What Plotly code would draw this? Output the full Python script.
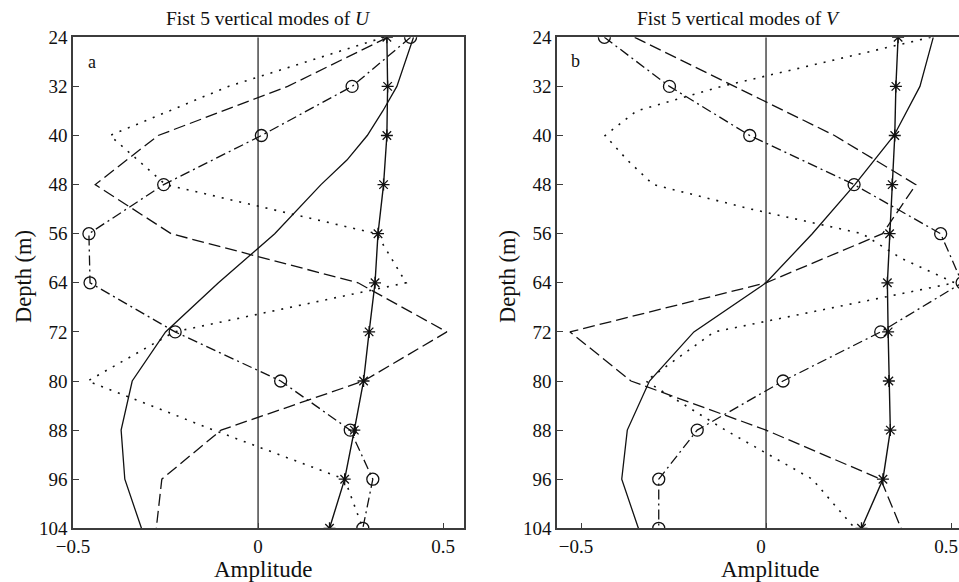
import plotly.graph_objects as go

# ---------------- data ----------------
depth = [24, 32, 40, 48, 56, 64, 72, 80, 88, 96, 104]
depth_ticks = [24, 32, 40, 48, 56, 64, 72, 80, 88, 96, 104]
amp_ticks = [-0.5, 0, 0.5]
amp_ticktext = ["\u22120.5", "0", "0.5"]

# U panel
u_mode1 = [0.348, 0.350, 0.348, 0.339, 0.324, 0.316, 0.300, 0.285, 0.260, 0.234, 0.193]
u_depth2 = [24, 32, 36, 40, 44, 48, 56, 64, 72, 80, 88, 96, 104]
u_mode2 = [0.420, 0.375, 0.337, 0.295, 0.240, 0.170, 0.045, -0.107, -0.250, -0.340, -0.370, -0.360, -0.315]
u_mode3 = [0.350, 0.080, -0.270, -0.440, -0.235, 0.270, 0.510, 0.285, -0.100, -0.260, -0.275]
u_mode4 = [0.340, -0.080, -0.400, -0.250, 0.320, 0.400, -0.226, -0.460, -0.120, 0.234, 0.283]
u_mode5 = [0.412, 0.254, 0.009, -0.255, -0.457, -0.454, -0.224, 0.061, 0.249, 0.310, 0.283]

# V panel
v_mode1 = [0.357, 0.351, 0.348, 0.341, 0.334, 0.328, 0.330, 0.332, 0.336, 0.316, 0.258]
v_mode2 = [0.452, 0.416, 0.346, 0.240, 0.125, 0.0, -0.195, -0.315, -0.375, -0.390, -0.345]
v_mode3 = [-0.355, -0.085, 0.185, 0.405, 0.315, 0.0, -0.530, -0.365, 0.0, 0.310, 0.365]
v_depth4 = [24, 32, 36, 40, 44, 48, 52, 56, 60, 64, 72, 80, 88, 96, 104]
v_mode4 = [0.445, -0.120, -0.350, -0.435, -0.375, -0.305, -0.040, 0.260, 0.365, 0.510,
           -0.140, -0.325, -0.110, 0.125, 0.240]
v_mode5 = [-0.437, -0.261, -0.044, 0.238, 0.472, 0.530, 0.310, 0.046, -0.186, -0.290, -0.290]

# ---------------- figure ----------------
W, H = 959, 582
FONT = "Liberation Serif, Times New Roman, serif"
INK = "#111111"
AXC = "#3c3c3c"

fig = go.Figure()


def add_panel(xa, ya, m1, d2, m2, d3, m3, d4, m4, m5):
    # zero reference line
    fig.add_trace(go.Scatter(x=[0, 0], y=[depth[0], depth[-1]], mode="lines",
                             line=dict(color=AXC, width=1.4), xaxis=xa, yaxis=ya,
                             hoverinfo="skip", showlegend=False))
    # mode 1: solid with asterisks
    fig.add_trace(go.Scatter(x=m1, y=depth, mode="lines+markers",
                             line=dict(color=INK, width=1.4),
                             marker=dict(symbol="asterisk-open", size=10, color=INK,
                                         line=dict(width=1.3, color=INK)),
                             xaxis=xa, yaxis=ya, showlegend=False))
    # mode 2: solid
    fig.add_trace(go.Scatter(x=m2, y=d2, mode="lines",
                             line=dict(color=INK, width=1.3),
                             xaxis=xa, yaxis=ya, showlegend=False))
    # mode 3: dashed
    fig.add_trace(go.Scatter(x=m3, y=d3, mode="lines",
                             line=dict(color=INK, width=1.3, dash="12px,5px"),
                             xaxis=xa, yaxis=ya, showlegend=False))
    # mode 4: dotted
    fig.add_trace(go.Scatter(x=m4, y=d4, mode="lines",
                             line=dict(color=INK, width=1.6, dash="2px,7px"),
                             xaxis=xa, yaxis=ya, showlegend=False))
    # mode 5: dash-dot with circles
    fig.add_trace(go.Scatter(x=m5, y=depth, mode="lines+markers",
                             line=dict(color=INK, width=1.3, dash="10px,4px,2px,4px"),
                             marker=dict(symbol="circle-open", size=12, color=INK,
                                         line=dict(width=1.3, color=INK)),
                             xaxis=xa, yaxis=ya, showlegend=False))


add_panel("x", "y", u_mode1, u_depth2, u_mode2, depth, u_mode3, depth, u_mode4, u_mode5)
add_panel("x2", "y2", v_mode1, depth, v_mode2, depth, v_mode3, v_depth4, v_mode4, v_mode5)

ydom = [1 - 528.3 / H, 1 - 37.3 / H]
tickfont = dict(family=FONT, size=19, color=INK)

common_x = dict(tickvals=amp_ticks, ticktext=amp_ticktext, ticks="inside", ticklen=6,
                tickwidth=1.2, tickcolor=AXC, showline=True, linecolor=AXC, linewidth=1.6,
                showgrid=False, zeroline=False, tickfont=tickfont, mirror=True,
                ticklabeloverflow="allow", automargin=False)
common_y = dict(tickvals=depth_ticks, ticks="inside", ticklen=6, tickwidth=1.2,
                tickcolor=AXC, showline=True, linecolor=AXC, linewidth=1.6,
                showgrid=False, zeroline=False, tickfont=tickfont, domain=ydom,
                range=[104, 24], automargin=False)

fig.update_layout(
    width=W, height=H,
    margin=dict(l=0, r=0, t=0, b=0, pad=0, autoexpand=False),
    paper_bgcolor="white", plot_bgcolor="white",
    font=dict(family=FONT, color=INK),
    xaxis=dict(domain=[73 / W, 463.5 / W], range=[-0.5, 0.555], anchor="y", **common_x),
    yaxis=dict(anchor="x", mirror=True, **common_y),
    xaxis2=dict(domain=[557 / W, 1.0], range=[-0.565, 0.5216], anchor="y2",
                ticklabelshift=-5, **common_x),
    yaxis2=dict(anchor="x2", mirror=False, **common_y),
)


def ann(text, px, py, size, angle=0):
    fig.add_annotation(text=text, x=px / W, y=1 - py / H, xref="paper", yref="paper",
                       showarrow=False, textangle=angle, xanchor="center", yanchor="middle",
                       font=dict(family=FONT, size=size, color=INK))


ann("Fist 5 vertical modes of <i>U</i>", 268.5, 19, 19.5)
ann("Fist 5 vertical modes of <i>V</i>", 738, 19, 19.5)
ann("a", 91.7, 62, 18)
ann("b", 575.7, 61, 18)
ann("Depth (m)", 23, 277, 22.5, -90)
ann("Depth (m)", 507, 277, 22.5, -90)
ann("Amplitude", 262.5, 569, 23)
ann("Amplitude", 770, 569, 23)

fig.write_html("out.html")
